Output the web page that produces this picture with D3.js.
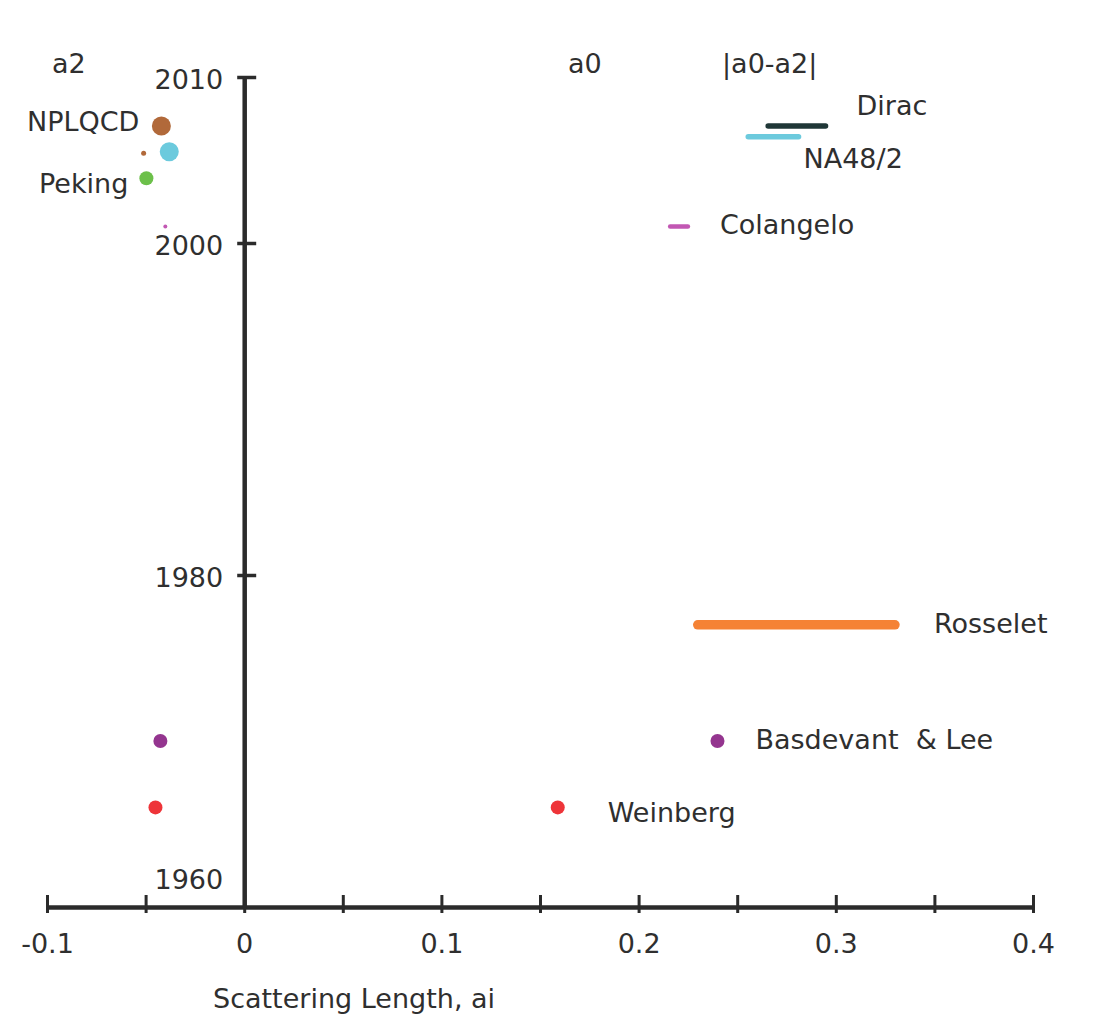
<!DOCTYPE html>
<html>
<head>
<meta charset="utf-8">
<script src="https://cdn.jsdelivr.net/npm/d3@7"></script>
<style>
  html, body { margin: 0; padding: 0; background: #fff; }
  svg { display: block; font-family: "DejaVu Sans", sans-serif; }
</style>
</head>
<body>
<svg id="chart" width="1103" height="1019"></svg>
<script>
// ---------------- data ----------------
const xTicks = [-0.1, -0.05, 0, 0.05, 0.1, 0.15, 0.2, 0.25, 0.3, 0.35, 0.4];
const xTickLabels = ["-0.1", "", "0", "", "0.1", "", "0.2", "", "0.3", "", "0.4"];
const yTicks = [1960, 1980, 2000, 2010];
const yTickLabels = ["1960", "1980", "2000", "2010"];
const columnHeaders = ["a2", "a0", "|a0-a2|"];
const xTitle = "Scattering Length, ai";

// a2 values (points)
const a2Keys  = ["Weinberg", "Basdevant", "Colangelo", "NA48", "NPLQCD", "NPLQCD06", "Peking"];
const a2Years = [1966, 1970, 2001, 2005.5, 2007.05, 2005.4, 2003.9];
const a2Vals  = [-0.045, -0.0425, -0.040, -0.038, -0.042, -0.051, -0.0496];

// a0 values (points)
const a0PointKeys  = ["Weinberg", "Basdevant"];
const a0PointYears = [1966, 1970];
const a0PointVals  = [0.159, 0.240];

// a0 / |a0-a2| ranges
const rangeKeys  = ["Rosselet", "Colangelo", "NA48", "Dirac"];
const rangeYears = [1977, 2001, 2006.4, 2007.05];
const rangeLow   = [0.230, 0.216, 0.2556, 0.2657];
const rangeHigh  = [0.330, 0.225, 0.2811, 0.2948];

// experiment labels
const labelKeys  = ["Weinberg", "Basdevant", "Rosselet", "Colangelo", "NA48", "Dirac", "NPLQCD", "Peking"];
const labelTexts = ["Weinberg", "Basdevant  & Lee", "Rosselet", "Colangelo", "NA48/2", "Dirac", "NPLQCD", "Peking"];

// ---------------- styles ----------------
const colors = {
  Weinberg: "#ee3439", Basdevant: "#94358f", Rosselet: "#f58235", Colangelo: "#c257b3",
  NA48: "#6ccadd", Dirac: "#1f3737", NPLQCD: "#b1693a", NPLQCD06: "#b1693a", Peking: "#6cc04a"
};
const a2Radius = { Weinberg: 7, Basdevant: 7, Colangelo: 2, NA48: 9.5, NPLQCD: 9.5, NPLQCD06: 2.5, Peking: 7 };
const a0Radius = { Weinberg: 7, Basdevant: 7 };
const rangeWidth = { Rosselet: 9.5, Colangelo: 4.5, NA48: 5.5, Dirac: 5.5 };
// label anchor: which mark, offset, anchor
const labelPlace = {
  Weinberg:  { ref: "a0pt", dx: 50, dy: 15, anchor: "start" },
  Basdevant: { ref: "a0pt", dx: 38, dy: 8, anchor: "start" },
  Rosselet:  { ref: "rangeEnd", dx: 39, dy: 8, anchor: "start" },
  Colangelo: { ref: "rangeEnd", dx: 32, dy: 8, anchor: "start" },
  NA48:      { ref: "rangeEnd", dx: 5, dy: 31, anchor: "start" },
  Dirac:     { ref: "rangeEnd", dx: 31, dy: -11, anchor: "start" },
  NPLQCD:    { ref: "a2", dx: -22, dy: 5, anchor: "end" },
  Peking:    { ref: "a2", dx: -18, dy: 15, anchor: "end" }
};
const headerPos = [[52, 73], [568, 73], [722, 73]];
const textColor = "#2f2f2f";
const axisColor = "#2b2b2b";
const FS = 27;

// ---------------- chart ----------------
const svg = d3.select("#chart");
const x = d3.scaleLinear().domain([-0.1, 0.4]).range([47, 1033]);
const y = d3.scaleLinear().domain([1960, 2010]).range([907, 77]);

// x axis
const xAxis = d3.axisBottom(x).tickValues(xTicks)
  .tickFormat((d, i) => xTickLabels[i]).tickSizeOuter(0);
const gx = svg.append("g").attr("transform", `translate(0,${y(1960)})`).call(xAxis);
gx.select(".domain").attr("stroke", axisColor).attr("stroke-width", 4.5);
gx.selectAll(".tick line").attr("y1", -12).attr("y2", 6)
  .attr("stroke", axisColor).attr("stroke-width", 3);
gx.selectAll(".tick text").attr("y", 46).attr("dy", 0)
  .attr("font-size", FS).attr("fill", textColor).attr("font-family", "DejaVu Sans");

// y axis
const yAxis = d3.axisLeft(y).tickValues(yTicks)
  .tickFormat((d, i) => yTickLabels[i]).tickSizeOuter(0);
const gy = svg.append("g").attr("transform", `translate(${x(0)},0)`).call(yAxis);
gy.select(".domain").attr("stroke", axisColor).attr("stroke-width", 4.5);
gy.selectAll(".tick line").attr("x1", -7).attr("x2", 12)
  .attr("stroke", axisColor).attr("stroke-width", 3.5)
  .attr("display", d => d === 1960 ? "none" : null);
gy.selectAll(".tick text").attr("x", -21).attr("dy", d => d === 1960 ? "-0.68em" : "0.41em")
  .attr("font-size", FS).attr("fill", textColor).attr("font-family", "DejaVu Sans");

// ranges
const ranges = rangeKeys.map((k, i) => ({ k, year: rangeYears[i], lo: rangeLow[i], hi: rangeHigh[i] }));
svg.append("g").selectAll("line").data(ranges).join("line")
  .attr("x1", d => x(d.lo)).attr("x2", d => x(d.hi))
  .attr("y1", d => y(d.year)).attr("y2", d => y(d.year))
  .attr("stroke", d => colors[d.k]).attr("stroke-width", d => rangeWidth[d.k])
  .attr("stroke-linecap", "round");

// a2 points
const a2pts = a2Keys.map((k, i) => ({ k, year: a2Years[i], v: a2Vals[i] }));
svg.append("g").selectAll("circle").data(a2pts).join("circle")
  .attr("cx", d => x(d.v)).attr("cy", d => y(d.year)).attr("r", d => a2Radius[d.k])
  .attr("fill", d => colors[d.k]);

// a0 points
const a0pts = a0PointKeys.map((k, i) => ({ k, year: a0PointYears[i], v: a0PointVals[i] }));
svg.append("g").selectAll("circle").data(a0pts).join("circle")
  .attr("cx", d => x(d.v)).attr("cy", d => y(d.year)).attr("r", d => a0Radius[d.k])
  .attr("fill", d => colors[d.k]);

// labels
function anchorPoint(k, ref) {
  if (ref === "a0pt") { const d = a0pts.find(p => p.k === k); return [x(d.v), y(d.year)]; }
  if (ref === "rangeEnd") { const d = ranges.find(p => p.k === k); return [x(d.hi), y(d.year)]; }
  const d = a2pts.find(p => p.k === k); return [x(d.v), y(d.year)];
}
svg.append("g").selectAll("text").data(labelKeys.map((k, i) => ({ k, t: labelTexts[i] }))).join("text")
  .each(function (d) {
    const p = labelPlace[d.k];
    const [ax, ay] = anchorPoint(d.k, p.ref);
    d3.select(this).attr("x", ax + p.dx).attr("y", ay + p.dy).attr("text-anchor", p.anchor);
  })
  .attr("font-size", FS).attr("fill", textColor)
  .style("white-space", "pre").attr("xml:space", "preserve")
  .text(d => d.t);

// column headers
svg.append("g").selectAll("text").data(columnHeaders).join("text")
  .attr("x", (d, i) => headerPos[i][0]).attr("y", (d, i) => headerPos[i][1])
  .attr("font-size", FS).attr("fill", textColor).text(d => d);

// x title
svg.append("text").attr("x", 213).attr("y", 1008)
  .attr("font-size", FS).attr("fill", textColor).text(xTitle);
</script>
</body>
</html>
